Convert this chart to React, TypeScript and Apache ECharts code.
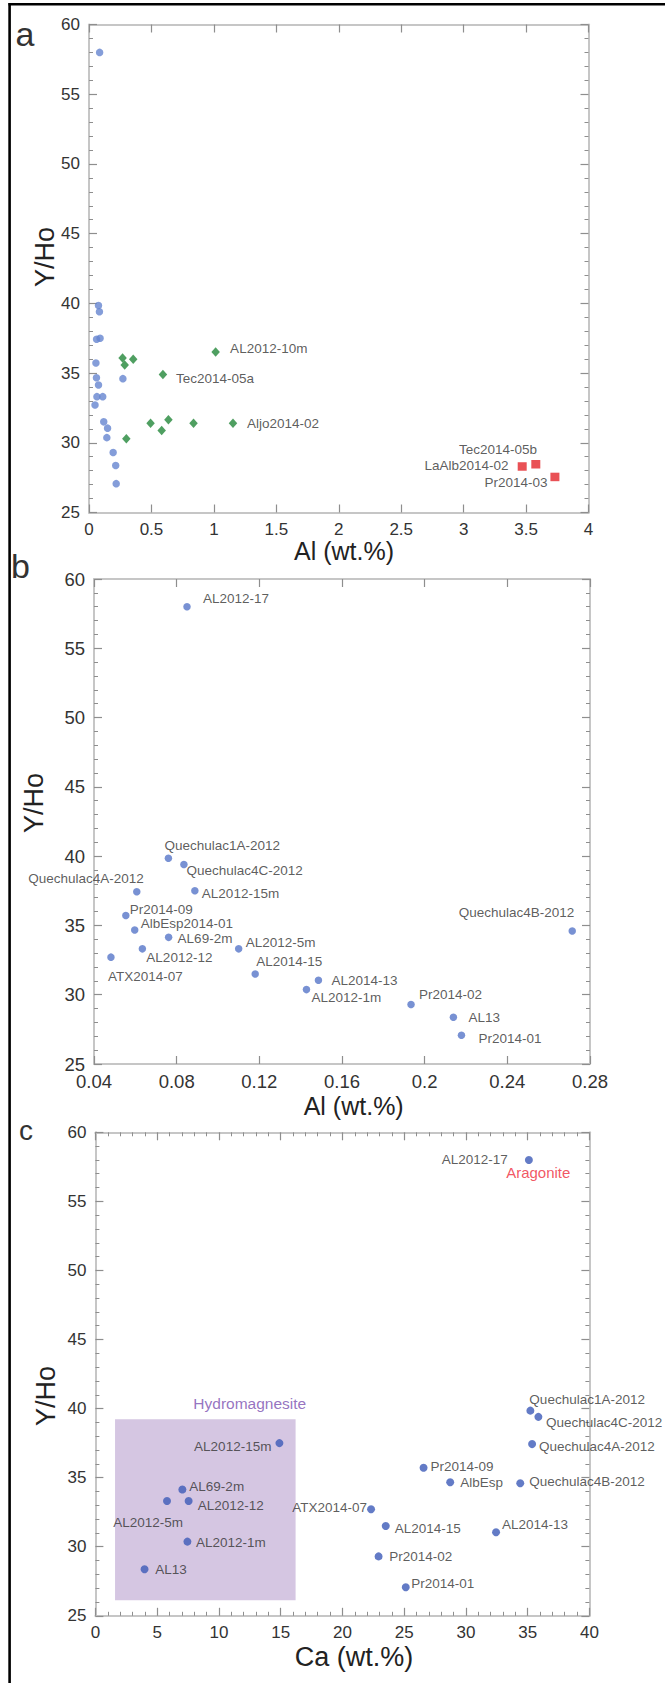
import React, { useEffect, useRef } from "react";
import * as echarts from "echarts";

// ---------- data ----------
const namesB = [
  "AL2012-17", "Quechulac1A-2012", "Quechulac4C-2012", "Quechulac4A-2012", "AL2012-15m",
  "Pr2014-09", "AlbEsp2014-01", "AL69-2m", "AL2012-12", "AL2012-5m", "ATX2014-07",
  "AL2014-15", "AL2014-13", "AL2012-1m", "Pr2014-02", "AL13", "Pr2014-01", "Quechulac4B-2012",
];
const namesC = [
  "AL2012-17", "Quechulac1A-2012", "Quechulac4C-2012", "Quechulac4A-2012", "AL2012-15m",
  "Pr2014-09", "AlbEsp", "AL69-2m", "AL2012-12", "AL2012-5m", "ATX2014-07",
  "AL2014-15", "AL2014-13", "AL2012-1m", "Pr2014-02", "AL13", "Pr2014-01", "Quechulac4B-2012",
];
const alWt = [
  0.085, 0.076, 0.0835, 0.0607, 0.0888, 0.0554, 0.0597, 0.0761, 0.0634, 0.11, 0.0482,
  0.118, 0.1486, 0.1428, 0.1934, 0.2139, 0.2178, 0.2714,
];
const caWt = [
  35.1, 35.22, 35.87, 35.36, 14.9, 26.57, 28.73, 7.04, 7.55, 5.8, 22.32,
  23.51, 32.44, 7.45, 22.93, 3.98, 25.13, 34.4,
];
const yHo = [
  58.0, 39.85, 39.4, 37.43, 37.5, 35.72, 34.67, 34.14, 33.31, 33.31, 32.71,
  31.5, 31.05, 30.37, 29.3, 28.37, 27.07, 34.6,
];

const greenAl = [0.269, 0.354, 0.286, 1.014, 0.592, 0.493, 0.636, 0.582, 0.837, 1.153, 0.299];
const greenYHo = [36.08, 36.0, 35.58, 36.51, 34.89, 31.41, 31.65, 30.88, 31.41, 31.41, 30.29];
const greenNames = ["", "", "", "AL2012-10m", "Tec2014-05a", "", "", "", "", "Aljo2014-02", ""];

const redAl = [3.469, 3.578, 3.731];
const redYHo = [28.3, 28.46, 27.55];
const redNames = ["LaAlb2014-02", "Tec2014-05b", "Pr2014-03"];

// Hydromagnesite field: [Ca min, Ca max, Y/Ho min, Y/Ho max]
const hydroBox = [1.59, 16.21, 26.13, 39.22];
const hydroLabelAt = [12.5, 40.38];
const aragoniteAt = [35.86, 57.07];

// axis ranges [min, max, interval]
const yRange = [25, 60, 5];
const xRangeA = [0, 4, 0.5];
const xRangeB = [0.04, 0.28, 0.04];
const xRangeC = [0, 40, 5];

// ---------- label placement (style only): [align, dx, dy] from marker centre ----------
type Place = [string, number, number] | null;
const placeB: Place[] = [
  ["left", 16, -8], ["left", -4, -13], ["left", 2.5, 6], ["right", 7, -13], ["left", 7, 3],
  ["left", 4, -6], ["left", 6, -7], ["left", 9, 1], ["left", 4, 9], ["left", 7, -6],
  ["left", -3, 19], ["left", 1, -12], ["left", 13, 0], ["left", 5, 8], ["left", 8, -10],
  ["left", 15, 0], ["left", 17, 3], ["right", 2, -18],
];
const placeC: Place[] = [
  ["right", -21, 0], ["left", -1, -11], ["left", 7.6, 6], ["left", 7, 2], ["right", -8, 3],
  ["left", 7, -1], ["left", 10, 0], ["left", 7, -3], ["left", 9, 4], ["right", 16, 21],
  ["right", -4, -2], ["left", 9, 2], ["left", 6, -8], ["left", 8.5, 1], ["left", 10.6, 0],
  ["left", 10.6, 0], ["left", 5.5, -4], ["left", 9, -2],
];
const placeGreen: Place[] = [
  null, null, null, ["left", 14.5, -3.4], ["left", 13, 3.4], null, null, null, null, ["left", 14, 0], null,
];
const placeRed: Place[] = [["right", -13.6, -1], ["right", 1.3, -14.7], ["right", -7.3, 6]];

const FONT = "'Liberation Sans', Arial, Helvetica, sans-serif";

function points(
  xs: number[], ys: number[], names: string[] | null, places: Place[] | null, size: number[]
) {
  return xs.map((x, i) => {
    const item: any = { value: [x, ys[i]] };
    const p = places ? places[i] : null;
    if (p && names && names[i]) {
      item.label = {
        show: true,
        formatter: names[i],
        position: [size[0] / 2 + p[1], size[1] / 2 + p[2]],
        align: p[0],
        verticalAlign: "middle",
        fontSize: 13.5,
        fontFamily: FONT,
        color: "#333",
      };
    }
    return item;
  });
}

function axesFor(g: number, xr: number[], xMinor: boolean, labelSize: number, xMargin: number) {
  const line = { show: true, onZero: false, lineStyle: { color: "#c6c6c6", width: 2 } };
  const tick = { show: true, inside: true, length: 8, lineStyle: { color: "#8e8e8e", width: 1.2 } };
  const minor = (on: boolean) =>
    on
      ? { show: true, splitNumber: 5, length: 4, lineStyle: { color: "#8e8e8e", width: 1 } }
      : { show: false };
  const lab = (show: boolean, margin: number) => ({
    show,
    margin,
    fontSize: labelSize,
    fontFamily: FONT,
    color: "#333",
    showMinLabel: true,
    showMaxLabel: true,
  });
  const base = { gridIndex: g, type: "value", splitLine: { show: false }, axisLine: line, axisTick: tick };
  const xs = [
    { ...base, position: "bottom", min: xr[0], max: xr[1], interval: xr[2], minorTick: minor(xMinor), axisLabel: lab(true, xMargin) },
    { ...base, position: "top", min: xr[0], max: xr[1], interval: xr[2], minorTick: minor(xMinor), axisLabel: lab(false, 8) },
  ];
  const ys = [
    { ...base, position: "left", min: yRange[0], max: yRange[1], interval: yRange[2], minorTick: minor(true), axisLabel: lab(true, 9) },
    { ...base, position: "right", min: yRange[0], max: yRange[1], interval: yRange[2], minorTick: minor(true), axisLabel: lab(false, 8) },
  ];
  return { xs, ys };
}

function textEl(text: string, x: number, y: number, size: number, opts: any = {}) {
  return {
    type: "text",
    x,
    y,
    rotation: opts.rotation || 0,
    style: {
      text,
      fontSize: size,
      fontFamily: FONT,
      fill: opts.fill || "#222",
      align: opts.align || "center",
      verticalAlign: "middle",
    },
    silent: true,
  };
}

export default function App() {
  const ref = useRef<HTMLDivElement>(null);
  useEffect(() => {
    if (!ref.current) return;
    const chart = echarts.init(ref.current, undefined, { renderer: "svg" });
    const a = axesFor(0, xRangeA, false, 17, 8);
    const b = axesFor(1, xRangeB, false, 18.5, 7.5);
    const c = axesFor(2, xRangeC, true, 17, 8.5);

    const blueA = "#6584d0";
    const blueB = "#5675c8";
    const blueC = "#3c5ab8";

    const option: any = {
      animation: false,
      backgroundColor: "#fff",
      textStyle: { fontFamily: FONT },
      grid: [
        { left: 89, top: 24.5, width: 499.5, height: 488 },
        { left: 94, top: 579, width: 496, height: 485 },
        { left: 95.4, top: 1132.3, width: 494, height: 483.5 },
      ],
      xAxis: [...a.xs, ...b.xs, ...c.xs],
      yAxis: [...a.ys, ...b.ys, ...c.ys],
      series: [
        {
          type: "scatter", xAxisIndex: 0, yAxisIndex: 0, symbol: "circle", symbolSize: 7.5,
          itemStyle: { color: blueA }, data: points(alWt, yHo, null, null, [7.5, 7.5]),
        },
        {
          type: "scatter", xAxisIndex: 0, yAxisIndex: 0, symbol: "diamond", symbolSize: [8.5, 9.5],
          itemStyle: { color: "#23873a" }, data: points(greenAl, greenYHo, greenNames, placeGreen, [8.5, 9.5]),
        },
        {
          type: "scatter", xAxisIndex: 0, yAxisIndex: 0, symbol: "rect", symbolSize: [9, 8.5],
          itemStyle: { color: "#e3262b" }, data: points(redAl, redYHo, redNames, placeRed, [9, 8.5]),
        },
        {
          type: "scatter", xAxisIndex: 2, yAxisIndex: 2, symbol: "circle", symbolSize: 7.5,
          itemStyle: { color: blueB }, data: points(alWt, yHo, namesB, placeB, [7.5, 7.5]),
        },
        {
          type: "scatter", xAxisIndex: 4, yAxisIndex: 4, symbol: "circle", symbolSize: 8,
          itemStyle: { color: blueC }, data: points(caWt, yHo, namesC, placeC, [8, 8]),
          markArea: {
            silent: true,
            itemStyle: { color: "#d5c6e2" },
            data: [[{ coord: [hydroBox[0], hydroBox[3]] }, { coord: [hydroBox[1], hydroBox[2]] }]],
          },
          z: 3,
        },
        {
          type: "scatter", xAxisIndex: 4, yAxisIndex: 4, symbolSize: 1, silent: true,
          itemStyle: { color: "rgba(0,0,0,0)" },
          data: [
            {
              value: aragoniteAt,
              label: { show: true, position: "inside", formatter: "Aragonite", color: "#ee2a3a", fontSize: 15, fontFamily: FONT },
            },
            {
              value: hydroLabelAt,
              label: { show: true, position: "inside", formatter: "Hydromagnesite", color: "#7a4fb0", fontSize: 15.5, fontFamily: FONT },
            },
          ],
        },
      ],
      graphic: [
        { type: "line", shape: { x1: 8.5, y1: 4.3, x2: 665, y2: 4.3 }, style: { stroke: "#000", lineWidth: 2.6 }, silent: true },
        { type: "line", shape: { x1: 9.6, y1: 3, x2: 9.6, y2: 1683 }, style: { stroke: "#000", lineWidth: 2.6 }, silent: true },
        textEl("a", 25, 33.5, 34, { fill: "#333" }),
        textEl("b", 20.5, 566, 34, { fill: "#333" }),
        textEl("c", 26, 1130.5, 28, { fill: "#333" }),
        textEl("Y/Ho", 44.5, 257, 27, { rotation: Math.PI / 2 }),
        textEl("Al (wt.%)", 344, 551, 25),
        textEl("Y/Ho", 34, 803, 27, { rotation: Math.PI / 2 }),
        textEl("Al (wt.%)", 353.7, 1106, 25),
        textEl("Y/Ho", 45.5, 1396, 27, { rotation: Math.PI / 2 }),
        textEl("Ca (wt.%)", 354, 1657, 27),
      ],
    };
    chart.setOption(option);
    return () => chart.dispose();
  }, []);
  return (
    <div
      ref={ref}
      style={{ position: "absolute", left: 0, top: 0, width: 665, height: 1683, background: "#fff" }}
    />
  );
}
